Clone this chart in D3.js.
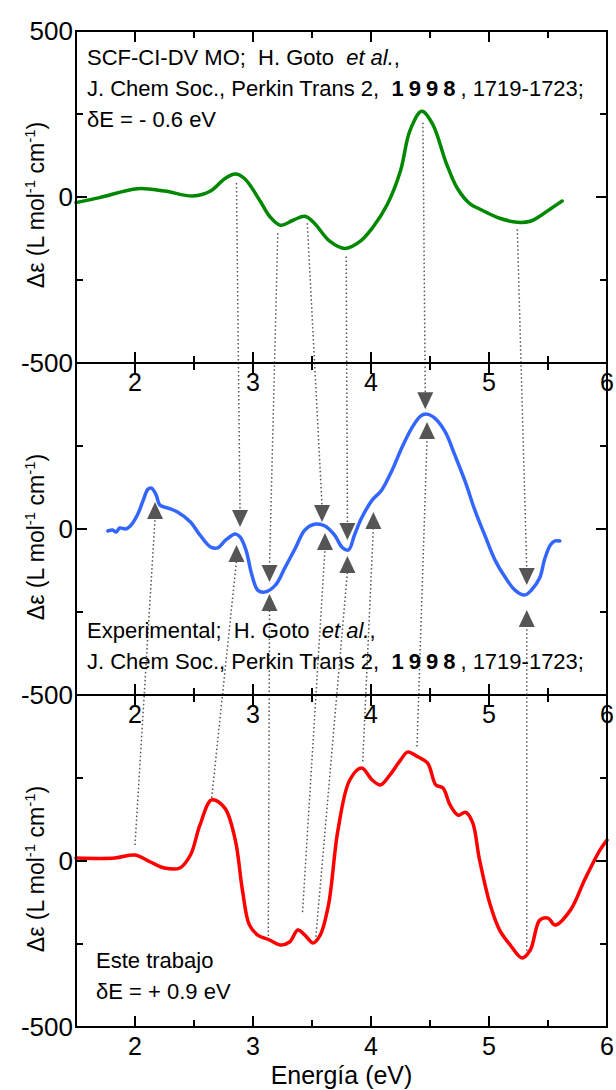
<!DOCTYPE html>
<html>
<head>
<meta charset="utf-8">
<script src="https://cdn.jsdelivr.net/npm/d3@7"></script>
<style>
  html, body { margin: 0; padding: 0; background: #fff; }
  svg { display: block; font-family: "Liberation Sans", Arial, Helvetica, sans-serif; }
  text { white-space: pre; }
</style>
</head>
<body>
<svg id="chart" width="616" height="1090"></svg>
<script>
// ---- Data -------------------------------------------------------------
// Calculated CD spectrum (SCF-CI-DV MO), shifted by dE = -0.6 eV
const calcE = [1.50, 1.70, 2.02, 2.25, 2.49, 2.64, 2.76, 2.85, 2.93, 3.06, 3.14, 3.23, 3.34, 3.44, 3.52, 3.65, 3.78, 3.91, 4.01, 4.14, 4.25, 4.33, 4.43, 4.52, 4.64, 4.73, 4.84, 4.92, 5.09, 5.24, 5.35, 5.43, 5.52, 5.62];
const calcV = [-17, -2, 25, 18, 3, 18, 55, 69, 55, -12, -58, -85, -70, -58, -79, -133, -155, -133, -94, -21, 79, 200, 258, 221, 100, 27, -21, -36, -64, -76, -73, -58, -36, -12];

// Experimental CD spectrum
const expE = [1.77, 1.81, 1.84, 1.87, 1.92, 1.96, 2.02, 2.07, 2.11, 2.14, 2.18, 2.21, 2.28, 2.36, 2.47, 2.55, 2.64, 2.70, 2.77, 2.85, 2.89, 2.94, 2.99, 3.04, 3.10, 3.19, 3.27, 3.36, 3.44, 3.53, 3.61, 3.69, 3.76, 3.81, 3.86, 3.92, 4.01, 4.09, 4.18, 4.26, 4.35, 4.42, 4.47, 4.54, 4.63, 4.71, 4.80, 4.88, 4.97, 5.05, 5.14, 5.22, 5.30, 5.36, 5.43, 5.47, 5.52, 5.56, 5.60];
const expV = [-6, -3, -9, 3, 0, 9, 42, 87, 120, 123, 102, 72, 63, 51, 21, -18, -54, -57, -33, -15, -24, -63, -138, -184, -190, -169, -117, -57, -3, 15, 9, -18, -57, -63, -18, 33, 87, 117, 178, 244, 307, 340, 346, 334, 292, 223, 141, 57, -24, -93, -147, -184, -199, -184, -147, -93, -48, -36, -36];

// This work, shifted by dE = +0.9 eV
const thisE = [1.50, 1.83, 2.00, 2.13, 2.25, 2.38, 2.47, 2.55, 2.65, 2.76, 2.85, 2.91, 2.97, 3.04, 3.14, 3.23, 3.31, 3.38, 3.44, 3.51, 3.57, 3.64, 3.72, 3.82, 3.92, 4.01, 4.08, 4.16, 4.25, 4.31, 4.40, 4.48, 4.55, 4.61, 4.67, 4.74, 4.80, 4.86, 4.92, 5.01, 5.09, 5.18, 5.28, 5.35, 5.43, 5.50, 5.56, 5.69, 5.81, 5.94, 6.00];
const thisV = [9, 9, 18, -3, -21, -21, 18, 108, 184, 160, 63, -87, -193, -223, -238, -253, -244, -208, -223, -247, -223, -132, 93, 244, 280, 244, 229, 259, 304, 328, 313, 295, 229, 220, 169, 138, 147, 117, 3, -132, -208, -253, -292, -268, -178, -172, -193, -148, -57, 33, 63];

// Arrows on the experimental panel: [energy, value]
const downArrows = [[2.89, 6], [3.14, -160], [3.585, 21], [3.80, -33], [4.46, 361], [5.32, -169]];
const upArrows = [[2.17, 81], [2.86, -48], [3.14, -196], [3.61, -12], [3.80, -81], [4.02, 51], [4.475, 322], [5.32, -244]];

// Correlation lines: calculated feature -> down arrow
const calcAnchors = [[2.86, 42], [3.21, -109], [3.46, -79], [3.79, -179], [4.44, 224], [5.24, -97]];
// Correlation lines: feature of this work -> up arrow
const thisAnchors = [[2.00, 48], [2.65, 190], [3.13, -238], [3.42, -154], [3.53, -240], [3.93, 300], [4.39, 345], [5.32, -270]];

const xTicks = [2, 3, 4, 5, 6];
const xMinor = [2.5, 3.5, 4.5, 5.5];
const yTicks = [500, 0, -500];
const yMinor = [250, -250];

const panelTexts = [
  [{ t: "SCF-CI-DV MO;  H. Goto  ", i: "et al.", a: "," }, { ref: true }, { t: "\u03B4E = - 0.6 eV" }],
  [{ t: "Experimental;  H. Goto  ", i: "et al.", a: "," }, { ref: true }],
  [{ t: "Este trabajo" }, { t: "\u03B4E = + 0.9 eV" }]
];

// ---- Layout -----------------------------------------------------------
const left = 76, right = 607;
const tops = [31, 363, 695];
const panelH = 332;
const textBase = [34, 275, 273];   // first annotation baseline, relative to panel top
const textStep = 31;

const svg = d3.select("#chart");
const x = d3.scaleLinear().domain([1.5, 6]).range([left, right]);
const ys = tops.map(t => d3.scaleLinear().domain([-500, 500]).range([t + panelH, t]));

const colors = ["#008800", "#3366ff", "#ff0000"];
const series = [[calcE, calcV], [expE, expV], [thisE, thisV]];

// correlation lines (drawn under the curves)
const linkG = svg.append("g")
  .attr("stroke", "#555").attr("stroke-width", 1.5)
  .attr("stroke-dasharray", "1.5,2.5").attr("fill", "none");

calcAnchors.forEach((a, i) => {
  const d = downArrows[i];
  linkG.append("line")
    .attr("x1", x(a[0])).attr("y1", ys[0](a[1]))
    .attr("x2", x(d[0])).attr("y2", ys[1](d[1]) - 16);
});
thisAnchors.forEach((a, i) => {
  const u = upArrows[i];
  linkG.append("line")
    .attr("x1", x(a[0])).attr("y1", ys[2](a[1]))
    .attr("x2", x(u[0])).attr("y2", ys[1](u[1]) + 16);
});

// curves
const line = (ysc) => d3.line().x(d => x(d[0])).y(d => ysc(d[1])).curve(d3.curveCatmullRom.alpha(0.5));
series.forEach((s, i) => {
  const pts = s[0].map((e, k) => [e, s[1][k]]);
  svg.append("path").datum(pts)
    .attr("d", line(ys[i]))
    .attr("fill", "none")
    .attr("stroke", colors[i])
    .attr("stroke-width", 3.5)
    .attr("stroke-linejoin", "round")
    .attr("stroke-linecap", "round");
});

// arrows
const arrowG = svg.append("g").attr("fill", "#555");
downArrows.forEach(d => {
  const px = x(d[0]), py = ys[1](d[1]);
  arrowG.append("path").attr("d", `M${px},${py} L${px - 8},${py - 17} L${px + 8},${py - 17} Z`);
});
upArrows.forEach(d => {
  const px = x(d[0]), py = ys[1](d[1]);
  arrowG.append("path").attr("d", `M${px},${py} L${px - 8},${py + 17} L${px + 8},${py + 17} Z`);
});

// frames, ticks, labels
tops.forEach((t, i) => {
  const y = ys[i];
  const g = svg.append("g");
  g.append("rect").attr("x", left).attr("y", t).attr("width", right - left).attr("height", panelH)
    .attr("fill", "none").attr("stroke", "#000").attr("stroke-width", 2);

  const tickG = g.append("g").attr("stroke", "#000").attr("stroke-width", 2);
  xTicks.concat(xMinor).forEach(v => {
    const len = xTicks.includes(v) ? 11 : 7;
    tickG.append("line").attr("x1", x(v)).attr("x2", x(v)).attr("y1", t + panelH).attr("y2", t + panelH - len);
    tickG.append("line").attr("x1", x(v)).attr("x2", x(v)).attr("y1", t).attr("y2", t + len);
  });
  yTicks.concat(yMinor).forEach(v => {
    const len = yTicks.includes(v) ? 11 : 7;
    tickG.append("line").attr("x1", left).attr("x2", left + len).attr("y1", y(v)).attr("y2", y(v));
    tickG.append("line").attr("x1", right).attr("x2", right - len).attr("y1", y(v)).attr("y2", y(v));
  });

  // x tick labels under each panel
  g.selectAll(".xl").data(xTicks).enter().append("text")
    .attr("x", d => x(d)).attr("y", t + panelH + 28)
    .attr("text-anchor", "middle").attr("font-size", 25).text(d => d);

  // y tick labels (top label only on the first panel)
  const labs = i === 0 ? yTicks : yTicks.filter(v => v !== 500);
  g.selectAll(".yl").data(labs).enter().append("text")
    .attr("x", left - 3).attr("y", d => y(d) + 9)
    .attr("text-anchor", "end").attr("font-size", 26).text(d => d);

  // y axis title
  const yt = g.append("text")
    .attr("transform", `translate(${left - 32},${t + 174}) rotate(-90)`)
    .attr("text-anchor", "middle").attr("font-size", 23);
  yt.append("tspan").text("\u0394\u03B5 (L mol");
  yt.append("tspan").attr("dy", -9).attr("font-size", 15).text("-1");
  yt.append("tspan").attr("dy", 9).text(" cm");
  yt.append("tspan").attr("dy", -9).attr("font-size", 15).text("-1");
  yt.append("tspan").attr("dy", 9).text(")");

  // panel annotation
  const ox = i === 2 ? 96 : 87;
  panelTexts[i].forEach((ln, k) => {
    const tx = g.append("text").attr("x", ox).attr("y", t + textBase[i] + k * textStep).attr("font-size", 22);
    if (ln.ref) {
      tx.append("tspan").text("J. Chem Soc., Perkin Trans 2,  ");
      tx.append("tspan").attr("font-weight", "bold").attr("letter-spacing", 5).text("1998");
      tx.append("tspan").text(", 1719-1723;");
    } else {
      tx.append("tspan").text(ln.t);
      if (ln.i) tx.append("tspan").attr("font-style", "italic").text(ln.i);
      if (ln.a) tx.append("tspan").text(ln.a);
    }
  });
});

// x axis title
svg.append("text").attr("x", (left + right) / 2).attr("y", 1084)
  .attr("text-anchor", "middle").attr("font-size", 25).text("Energía (eV)");
</script>
</body>
</html>
